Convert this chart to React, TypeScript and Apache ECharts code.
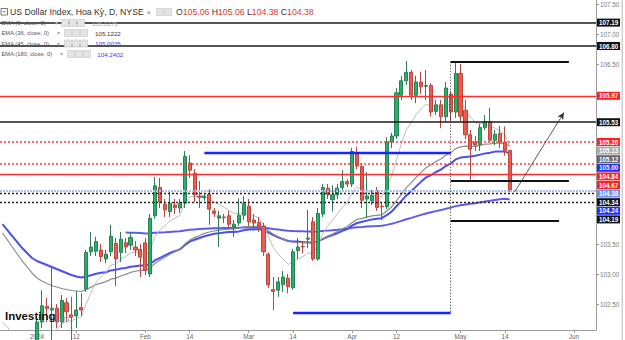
import React, { useEffect, useRef } from 'react';
import * as echarts from 'echarts';

// ---------- categories ----------
const PRE_DATES = ['2023-12-20', '2023-12-21', '2023-12-22', '2023-12-26', '2023-12-27', '2023-12-28', '2023-12-29'];
const N_CATS = 121;
function buildDates(): string[] {
  const out = [...PRE_DATES];
  const d = new Date(Date.UTC(2024, 0, 2));
  while (out.length < N_CATS) {
    const wd = d.getUTCDay();
    if (wd !== 0 && wd !== 6) out.push(d.toISOString().slice(0, 10));
    d.setUTCDate(d.getUTCDate() + 1);
  }
  return out;
}
const DATES = buildDates();
const OFFSET = PRE_DATES.length;

const X_LABELS: Record<string, string> = {
  '2024-01-02': '2024', '2024-01-12': '12', '2024-02-01': 'Feb', '2024-02-14': '14',
  '2024-03-01': 'Mar', '2024-03-14': '14', '2024-04-01': 'Apr', '2024-04-12': '12',
  '2024-05-01': 'May', '2024-05-14': '14', '2024-06-03': 'Jun',
};
const Y_LABELS = [102.5, 103, 103.5, 106.5, 107, 107.5];
const Y_MIN = 102.0667;
const Y_MAX = 107.5667;

// ---------- candles (Jan 2 .. May 15) ----------
const OPEN = [101.33,102.20,102.46,102.40,102.43,102.20,102.52,102.32,102.30,102.44,
 102.75,103.37,103.38,103.40,103.25,103.37,103.51,103.36,103.52,103.48,
 103.45,103.41,103.52,103.00,103.97,104.44,104.16,104.04,104.15,104.10,
 104.18,104.85,104.68,104.30,104.27,104.33,104.05,103.93,103.95,103.97,
 103.78,103.85,103.98,104.13,103.90,103.86,103.80,103.33,102.74,102.73,
 102.82,102.93,102.77,103.39,103.46,103.58,103.87,103.25,104.00,104.43,
 104.24,104.32,104.44,104.54,104.50,105.02,104.79,104.25,104.22,104.39,
 104.13,104.12,105.20,105.30,105.98,106.22,106.36,105.98,106.20,106.13,
 106.14,105.71,105.82,105.62,106.00,105.70,106.34,105.73,105.32,105.20,
 105.16,105.44,105.54,105.23,105.34,105.20,105.06];
const HIGH = [102.25,102.73,102.60,103.11,102.50,102.65,102.60,102.62,102.72,102.68,
 103.40,103.70,103.62,103.50,103.40,103.82,103.60,103.70,103.60,103.70,
 103.55,103.50,103.60,104.00,104.62,104.60,104.25,104.40,104.25,104.25,
 105.05,104.98,104.75,104.55,104.35,104.41,104.10,104.05,104.00,104.05,
 103.90,104.26,104.30,104.25,104.00,103.95,103.85,103.36,102.95,102.95,
 103.05,103.00,103.42,103.60,103.55,104.07,103.95,104.10,104.50,104.50,
 104.48,104.50,104.73,104.58,105.10,105.12,104.85,104.70,104.40,104.45,
 104.20,105.28,105.35,106.10,106.30,106.55,106.40,106.30,106.37,106.40,
 106.18,105.90,105.90,106.20,106.05,106.54,106.50,105.90,105.40,105.30,
 105.50,105.65,105.77,105.40,105.47,105.46,105.06];
const LOW = [101.30,102.10,102.20,101.90,102.10,102.10,102.20,101.80,102.10,102.30,
 102.70,103.30,103.30,103.20,103.18,103.30,102.80,103.20,103.35,103.40,
 103.30,102.95,102.98,102.95,103.92,104.10,103.95,103.95,104.00,104.02,
 104.10,104.60,104.20,104.10,104.22,103.82,103.95,103.45,103.85,103.78,
 103.62,103.80,103.90,103.80,103.75,103.70,103.30,102.77,102.40,102.62,
 102.70,102.68,102.74,103.25,103.35,103.43,103.22,103.22,103.95,104.25,
 104.04,104.25,104.38,104.45,104.45,104.75,104.10,103.93,104.15,104.05,
 103.90,104.08,105.10,105.25,105.90,106.15,105.90,105.85,106.00,105.90,
 105.62,105.65,105.43,105.55,105.55,105.60,105.55,105.25,104.55,105.05,
 105.05,105.40,105.20,105.15,105.10,104.97,104.38];
const CLOSE = [102.20,102.47,102.42,102.43,102.20,102.56,102.37,102.28,102.40,102.40,
 103.36,103.45,103.54,103.29,103.33,103.63,103.25,103.58,103.45,103.61,
 103.40,103.28,103.06,103.93,104.47,104.20,104.07,104.18,104.11,104.18,
 104.96,104.73,104.32,104.28,104.30,104.08,104.01,103.97,103.94,103.83,
 103.83,103.98,104.17,103.87,103.85,103.80,103.37,102.82,102.71,102.87,
 102.95,102.79,103.37,103.45,103.45,103.60,103.25,104.01,104.44,104.32,
 104.32,104.43,104.54,104.50,105.04,104.80,104.23,104.30,104.31,104.11,
 104.12,105.20,105.30,106.02,106.22,106.36,105.98,106.20,106.12,106.14,
 105.70,105.82,105.62,106.10,105.70,106.34,105.63,105.32,105.08,105.15,
 105.44,105.54,105.23,105.33,105.20,105.06,104.38];

// ---------- indicator lines (from Dec 20) ----------
const EMA9 = [102.20,102.12,102.00,101.88,101.70,101.60,101.52,
 101.656,101.819,101.939,102.037,102.07,102.168,102.208,102.222,102.258,102.286,
 102.501,102.691,102.861,102.947,103.024,103.145,103.166,103.249,103.289,103.353,
 103.362,103.346,103.289,103.417,103.628,103.742,103.808,103.882,103.928,103.978,
 104.174,104.285,104.292,104.29,104.292,104.25,104.202,104.156,104.113,104.056,
 104.011,104.005,104.038,104.004,103.973,103.938,103.824,103.623,103.44,103.326,
 103.251,103.159,103.201,103.251,103.291,103.353,103.332,103.468,103.662,103.794,
 103.899,104.005,104.112,104.19,104.36,104.448,104.404,104.383,104.368,104.316,
 104.277,104.462,104.63,104.908,105.17,105.408,105.522,105.658,105.75,105.828,
 105.802,105.806,105.769,105.835,105.808,105.914,105.857,105.75,105.616,105.523,
 105.506,105.513,105.456,105.431,105.385,105.32,105.132];
const EMA36 = [103.683,103.567,103.45,103.333,103.217,103.117,103.017,
 102.933,102.883,102.842,102.808,102.783,102.758,102.742,102.725,102.717,102.708,
 102.743,102.781,102.822,102.847,102.873,102.914,102.932,102.967,102.993,103.026,
 103.046,103.059,103.059,103.106,103.18,103.235,103.28,103.329,103.371,103.415,
 103.498,103.565,103.606,103.642,103.678,103.7,103.717,103.73,103.742,103.746,
 103.751,103.763,103.785,103.79,103.793,103.793,103.77,103.719,103.664,103.621,
 103.585,103.542,103.533,103.528,103.524,103.528,103.513,103.54,103.589,103.628,
 103.665,103.707,103.752,103.792,103.86,103.911,103.928,103.948,103.968,103.976,
 103.984,104.05,104.118,104.221,104.329,104.439,104.522,104.613,104.694,104.772,
 104.822,104.876,104.916,104.98,105.019,105.09,105.119,105.13,105.127,105.128,
 105.145,105.166,105.17,105.179,105.18,105.174,105.131];
const EMA45 = [103.833,103.733,103.633,103.533,103.433,103.35,103.267,
 103.217,103.183,103.15,103.117,103.083,103.05,103.017,102.983,102.958,102.942,
 102.96,102.98,103.005,103.02,103.03,103.06,103.07,103.09,103.10,103.12,
 103.13,103.14,103.14,103.17,103.23,103.27,103.31,103.35,103.38,103.41,
 103.48,103.54,103.57,103.60,103.63,103.65,103.67,103.68,103.69,103.70,
 103.70,103.71,103.73,103.74,103.74,103.75,103.73,103.69,103.65,103.61,
 103.58,103.55,103.54,103.54,103.53,103.53,103.52,103.54,103.58,103.62,
 103.65,103.68,103.72,103.75,103.81,103.85,103.87,103.89,103.91,103.92,
 103.93,103.98,104.04,104.13,104.22,104.31,104.38,104.46,104.54,104.61,
 104.65,104.70,104.74,104.80,104.84,104.91,104.94,104.95,104.96,104.97,
 104.99,105.01,105.02,105.04,105.04,105.04,105.01];
const EMA180 = [null,null,null,null,null,null,null,
 null,null,null,null,null,null,null,null,null,null,
 null,null,null,null,null,null,null,null,103.69,103.689,
 103.686,103.682,103.675,103.678,103.687,103.693,103.697,103.702,103.707,103.712,
 103.726,103.737,103.743,103.749,103.755,103.759,103.762,103.764,103.766,103.767,
 103.768,103.77,103.774,103.775,103.776,103.776,103.772,103.761,103.749,103.74,
 103.731,103.721,103.717,103.714,103.711,103.71,103.705,103.708,103.716,103.723,
 103.73,103.738,103.747,103.755,103.769,103.78,103.785,103.791,103.797,103.80,
 103.804,103.819,103.836,103.86,103.886,103.913,103.936,103.961,103.985,104.009,
 104.028,104.048,104.065,104.088,104.106,104.131,104.147,104.16,104.17,104.181,
 104.195,104.21,104.221,104.233,104.244,104.253,104.24];

// ---------- drawn levels ----------
const LEVELS = [107.19, 106.80, 105.97, 105.53, 105.20, 104.84, 104.67, 104.38, 104.34, 104.19];
const SEG_LEVELS = [106.538, 104.55, 103.888];
const SEG_START = 84;
const SEG_ENDS = [108, 108, 106];
const BLUE_LEVELS = [105.022, 102.35];
const BLUE_STARTS = [34, 52];
const ARROW_FROM: [number, number] = [97, 104.37];
const ARROW_TO: [number, number] = [107, 105.69];

const TAG_VALUES = [107.19, 106.80, 105.97, 105.53, 105.20, 105.13, 105.12, 105.00, 104.84, 104.67, 104.38, 104.34, 104.24, 104.19];
const LEGEND_NAMES = ['EMA (9, close, 0)', 'EMA (36, close, 0)', 'EMA (45, close, 0)', 'EMA (180, close, 0)'];
const LEGEND_VALUES = ['105.1275', '105.1222', '105.0035', '104.2402'];

const FONT = 'Liberation Sans, Arial, sans-serif';
const cat = (i: number) => DATES[i + OFFSET];

function buildOption(): any {
  const candles: any[] = [];
  for (let k = 0; k < OFFSET; k++) candles.push('-');
  OPEN.forEach((o, k) => candles.push([o, CLOSE[k], LOW[k], HIGH[k]]));

  const levelStyles: any[] = [
    { color: '#1b1b1b', width: 1.6, type: 'solid' },
    { color: '#1b1b1b', width: 1.6, type: 'solid' },
    { color: '#ff2d2d', width: 1.3, type: 'solid' },
    { color: '#1b1b1b', width: 1.6, type: 'solid' },
    { color: '#ff3b3b', width: 1.5, type: [2, 2] },
    { color: '#ff3b3b', width: 1.5, type: [2, 2] },
    { color: '#ff2d2d', width: 1.3, type: 'solid' },
    { color: '#a9bdf6', width: 2, type: [2, 1] },
    { color: '#222', width: 1.4, type: [2, 2] },
    { color: '#222', width: 1.4, type: [2, 2] },
  ];
  const mlData: any[] = LEVELS.map((v, k) => ({ yAxis: v, lineStyle: levelStyles[k] }));
  SEG_LEVELS.forEach((v, k) => mlData.push([
    { coord: [cat(SEG_START), v], lineStyle: { color: '#111', width: 2, type: 'solid' } },
    { coord: [cat(SEG_ENDS[k]), v] },
  ]));
  BLUE_LEVELS.forEach((v, k) => mlData.push([
    { coord: [cat(BLUE_STARTS[k]), v], lineStyle: { color: '#1426ff', width: 2.4, type: 'solid' } },
    { coord: [cat(SEG_START), v] },
  ]));
  mlData.push([
    { coord: [cat(SEG_START), SEG_LEVELS[0]], lineStyle: { color: '#333', width: 1, type: [1, 2] } },
    { coord: [cat(SEG_START), BLUE_LEVELS[1]] },
  ]);
  mlData.push([
    { coord: [cat(ARROW_FROM[0]), ARROW_FROM[1]], symbol: 'none', lineStyle: { color: '#333', width: 0.8, type: 'solid' } },
    { coord: [cat(ARROW_TO[0]), ARROW_TO[1]], symbol: 'arrow', symbolSize: [5, 7] },
  ]);

  const ema = (name: string, data: any[], color: string, width: number, z: number) => ({
    name, type: 'line', data, showSymbol: false, symbol: 'none', silent: true, z,
    lineStyle: { color, width }, connectNulls: false,
  });

  return {
    animation: false,
    backgroundColor: '#ffffff',
    grid: { left: 0, right: 29, top: 0, bottom: 10, containLabel: false },
    xAxis: {
      type: 'category', data: DATES, boundaryGap: true,
      axisLine: { show: true, lineStyle: { color: '#9a9a9a', width: 1 } },
      axisTick: { show: true, alignWithLabel: true, length: 3, lineStyle: { color: '#9a9a9a' },
        interval: (_i: number, v: string) => X_LABELS[v] !== undefined },
      axisLabel: { show: true, interval: (_i: number, v: string) => X_LABELS[v] !== undefined,
        formatter: (v: string) => X_LABELS[v] || '', fontSize: 6.3, color: '#666', margin: 3, fontFamily: FONT },
      splitLine: { show: false },
    },
    yAxis: {
      type: 'value', position: 'right', min: Y_MIN, max: Y_MAX,
      axisLine: { show: true, lineStyle: { color: '#9a9a9a', width: 1 } },
      axisTick: { show: true, length: 3, lineStyle: { color: '#9a9a9a' }, customValues: Y_LABELS },
      axisLabel: { show: true, customValues: Y_LABELS, formatter: (v: number) => v.toFixed(2),
        fontSize: 6.3, color: '#7a7a7a', margin: 4, fontFamily: FONT },
      splitLine: { show: false },
    },
    series: [
      ema('EMA180', EMA180, '#5a5cf0', 2, 2),
      ema('EMA45', EMA45, '#4a4ff2', 2, 2),
      ema('EMA36', EMA36, '#8c8c8c', 1.2, 2),
      ema('EMA9', EMA9, '#bcbcbc', 1, 2),
      {
        name: 'USD', type: 'candlestick', data: candles, barWidth: 3.6, z: 3,
        itemStyle: { color: '#1fb46a', color0: '#f25a50', borderColor: '#2f7d55', borderColor0: '#b8463d', borderWidth: 1 },
        markLine: { silent: true, symbol: ['none', 'none'], label: { show: false }, animation: false, data: mlData },
      },
    ],
  };
}

function textEl(x: number, y: number, text: string, size: number, fill: string, extra: any = {}) {
  return {
    type: 'text', x, y, silent: true, z: 100,
    style: { text, fill, fontSize: size, fontFamily: FONT, align: 'left', verticalAlign: 'middle',
      textAlign: 'left', textVerticalAlign: 'middle', ...extra },
  };
}
function iconEl(x: number, y: number) {
  return { type: 'rect', silent: true, z: 100, shape: { x, y: y - 3.5, width: 7, height: 7 },
    style: { fill: '#e4e4e4', stroke: '#c4c4c4', lineWidth: 0.6 } };
}

function buildGraphics(chart: any): any[] {
  const g: any[] = [];
  g.push({ type: 'rect', silent: true, z: 100, shape: { x: 621.5, y: 0, width: 1.5, height: 340 }, style: { fill: '#cfcfcf' } });

  g.push({ type: 'rect', silent: true, z: 100, shape: { x: 1, y: 8.5, width: 6.5, height: 6.5 }, style: { fill: 'none', stroke: '#555', lineWidth: 0.8 } });
  g.push({ type: 'line', silent: true, z: 100, shape: { x1: 2.6, y1: 11.75, x2: 5.9, y2: 11.75 }, style: { stroke: '#555', lineWidth: 0.8 } });
  g.push(textEl(10, 12, 'US Dollar Index, Hoa Kỳ, D, NYSE', 8.7, '#333'));
  g.push(textEl(146.5, 12, '▾', 7, '#aaa'));
  g.push(iconEl(156.5, 12));
  g.push(iconEl(164.5, 12));
  const last = OPEN.length - 1;
  const ohlc = `{k|O}{r|${OPEN[last].toFixed(2)}} {k|H}{r|${HIGH[last].toFixed(2)}} {k|L}{r|${LOW[last].toFixed(2)}} {k|C}{r|${CLOSE[last].toFixed(2)}}`;
  g.push(textEl(176, 12, ohlc, 8.7, '#333', {
    rich: { k: { fill: '#333', fontSize: 8.7, fontFamily: FONT }, r: { fill: '#d83a2e', fontSize: 8.7, fontFamily: FONT } },
  }));

  const rowY = [23, 33, 43.5, 54];
  const triX = [54.5, 57, 57, 60];
  const icoX = [61.5, 64.5, 64.5, 67.5];
  const valX = [91.7, 95, 95, 97.3];
  const valC = ['#a8a8a8', '#333', '#2f3cf5', '#2f3cf5'];
  LEGEND_NAMES.forEach((nm, k) => {
    g.push(textEl(1.5, rowY[k], nm, 5.8, '#555'));
    g.push(textEl(triX[k], rowY[k], '▾', 5.5, '#aaa'));
    g.push(iconEl(icoX[k], rowY[k]));
    g.push(iconEl(icoX[k] + 8, rowY[k]));
    g.push(iconEl(icoX[k] + 16, rowY[k]));
    g.push(textEl(valX[k], rowY[k], LEGEND_VALUES[k], 6.2, valC[k]));
  });

  g.push(textEl(5, 316, 'Investing', 11.5, '#111', { fontWeight: 'bold' }));
  g.push(textEl(55, 318.5, '.com', 6.5, '#8a8a8a'));

  const tagColors = ['#111', '#111', '#ff2020', '#111', '#ff2020', '#a8a8a8', '#666', '#1f2cff', '#ff2020', '#ff2020', '#6f8ff0', '#111', '#1f2cff', '#111'];
  let prev = -Infinity;
  TAG_VALUES.forEach((v, k) => {
    const py = chart.convertToPixel({ yAxisIndex: 0 }, v) as number;
    const y = Math.max(py, prev + 8.6);
    prev = y;
    g.push({ type: 'rect', silent: true, z: 100, shape: { x: 597, y: y - 4, width: 23, height: 8 }, style: { fill: tagColors[k] } });
    g.push({ type: 'text', x: 608.5, y, silent: true, z: 101,
      style: { text: v.toFixed(2), fill: '#fff', fontSize: 6.3, fontWeight: 'bold', fontFamily: FONT,
        align: 'center', verticalAlign: 'middle', textAlign: 'center', textVerticalAlign: 'middle' } });
  });
  return g;
}

export default function App() {
  const ref = useRef<HTMLDivElement>(null);
  useEffect(() => {
    const el = ref.current;
    if (!el) return;
    const chart = echarts.init(el, undefined, { renderer: 'svg' });
    chart.setOption(buildOption());
    chart.setOption({ graphic: { elements: buildGraphics(chart) } });
    return () => chart.dispose();
  }, []);
  return <div ref={ref} style={{ position: 'fixed', left: 0, top: 0, width: 625, height: 340, background: '#fff' }} />;
}
